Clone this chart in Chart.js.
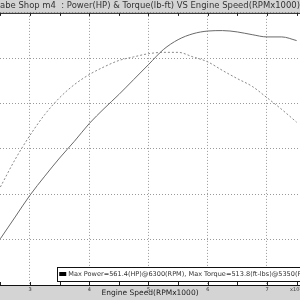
<!DOCTYPE html>
<html>
<head>
<meta charset="utf-8">
<script src="https://cdn.jsdelivr.net/npm/chart.js@4"></script>
<style>
  html, body { margin: 0; padding: 0; background: #d4d4d4; }
  #wrap { width: 300px; height: 300px; }
</style>
</head>
<body>
<div id="wrap"><canvas id="dyno" width="300" height="300"></canvas></div>
<script>
// engine speed, x1000 rpm
const rpm = [2.5, 2.75, 3.0, 3.25, 3.5, 3.75, 4.0, 4.25, 4.5, 4.75, 5.0,
             5.25, 5.5, 5.75, 6.0, 6.25, 6.5, 6.75, 7.0, 7.25, 7.5];
// power (HP) - solid line
const power = [102, 150, 198, 240, 280, 317, 356, 389, 420, 453, 486,
               519, 541, 554, 560, 561, 558, 552, 547, 547, 539];
// torque (ft-lbs) - dotted line
const torque = [216, 277, 330, 376, 413, 442, 464, 481, 495, 503, 510,
                513, 513, 503, 492, 473, 455, 438, 413, 387, 359];

const xTicks = [3, 4, 5, 6, 7];
const titleText = "abe Shop m4  : Power(HP) & Torque(lb-ft) VS Engine Speed(RPMx1000)";
const legendText = "Max Power=561.4(HP)@6300(RPM), Max Torque=513.8(ft-lbs)@5350(RPM)";
const xLabel = "Engine Speed(RPMx1000)";

const FONT = "'DejaVu Sans', Verdana, sans-serif";

// white plot area + top axis, inner tick marks, legend box
const dynoDecor = {
  id: 'dynoDecor',
  beforeDraw(chart) {
    const {ctx, chartArea: a} = chart;
    ctx.save();
    ctx.fillStyle = '#d4d4d4';
    ctx.fillRect(0, 0, chart.width, chart.height);
    ctx.fillStyle = '#ffffff';
    ctx.fillRect(a.left, a.top, a.right - a.left, a.bottom - a.top);
    ctx.restore();
  },
  afterDraw(chart) {
    const {ctx, chartArea: a, scales} = chart;
    const xs = scales.x;
    ctx.save();
    ctx.strokeStyle = '#222';
    ctx.lineWidth = 1;
    ctx.beginPath();
    ctx.moveTo(a.left, a.top + 0.5);
    ctx.lineTo(a.right, a.top + 0.5);
    ctx.stroke();
    // tick marks every 0.5 on both axes, pointing inward
    ctx.beginPath();
    for (let v = 2.5; v <= 7.5; v += 0.5) {
      const px = Math.round(xs.getPixelForValue(v)) + 0.5;
      ctx.moveTo(px, a.top);
      ctx.lineTo(px, a.top + 3);
      ctx.moveTo(px, a.bottom);
      ctx.lineTo(px, a.bottom - 3);
    }
    ctx.stroke();

    // legend box inside the plot
    const lx = xs.getPixelForValue(3.46);
    const ly = a.bottom - 18;
    ctx.fillStyle = '#fff';
    ctx.fillRect(lx, ly, chart.width - lx + 5, 14);
    ctx.strokeStyle = '#111';
    ctx.strokeRect(Math.round(lx) + 0.5, Math.round(ly) + 0.5, chart.width - lx + 5, 14);
    ctx.fillStyle = '#000';
    ctx.fillRect(lx + 2, ly + 5, 7, 4);
    ctx.fillStyle = '#333';
    ctx.font = '6.55px ' + FONT;
    ctx.textBaseline = 'middle';
    ctx.fillText(legendText, lx + 11, ly + 7.5);

    // exponent hint at right of x axis
    ctx.font = '5px ' + FONT;
    ctx.fillStyle = '#444';
    ctx.fillText('x10\u00b3', a.right - 10, a.bottom + 5);
    ctx.restore();
  }
};

const ctx = document.getElementById('dyno');
new Chart(ctx, {
  type: 'line',
  data: {
    datasets: [{
      label: 'Power',
      data: rpm.map((r, i) => ({x: r, y: power[i]})),
      borderColor: '#6a6a6a',
      borderWidth: 1,
      pointRadius: 0,
      cubicInterpolationMode: 'monotone',
      fill: false
    }, {
      label: 'Torque',
      data: rpm.map((r, i) => ({x: r, y: torque[i]})),
      borderColor: '#8a8a8a',
      borderWidth: 1,
      borderDash: [2, 2],
      pointRadius: 0,
      cubicInterpolationMode: 'monotone',
      fill: false
    }]
  },
  options: {
    responsive: false,
    animation: false,
    layout: { padding: 0 },
    plugins: {
      legend: { display: false },
      tooltip: { enabled: false },
      title: {
        display: true,
        text: titleText,
        align: 'start',
        color: '#333',
        font: { family: FONT, size: 9, weight: 'normal', lineHeight: 1.1 },
        padding: { top: 1, bottom: 2 }
      }
    },
    scales: {
      x: {
        type: 'linear',
        position: 'bottom',
        min: 2.494,
        max: 7.557,
        afterBuildTicks(scale) {
          scale.ticks = xTicks.map(v => ({value: v}));
        },
        afterFit(scale) { scale.height = 15; },
        grid: {
          color: '#9a9a9a',
          lineWidth: 1,
          drawTicks: false
        },
        border: { display: true, color: '#111', width: 1, dash: [1, 2] },
        ticks: {
          color: '#333',
          padding: 2,
          maxRotation: 0,
          font: { family: FONT, size: 5 }
        },
        title: {
          display: true,
          text: xLabel,
          color: '#222',
          padding: { top: 0, bottom: 2 },
          font: { family: FONT, size: 7.5 }
        }
      },
      y: {
        min: 0,
        max: 600,
        afterFit(scale) { scale.width = 0; },
        ticks: { display: false, stepSize: 100 },
        grid: { color: '#9a9a9a', lineWidth: 1, drawTicks: false },
        border: { display: false, dash: [1, 2] }
      }
    }
  },
  plugins: [dynoDecor]
});
</script>
</body>
</html>
